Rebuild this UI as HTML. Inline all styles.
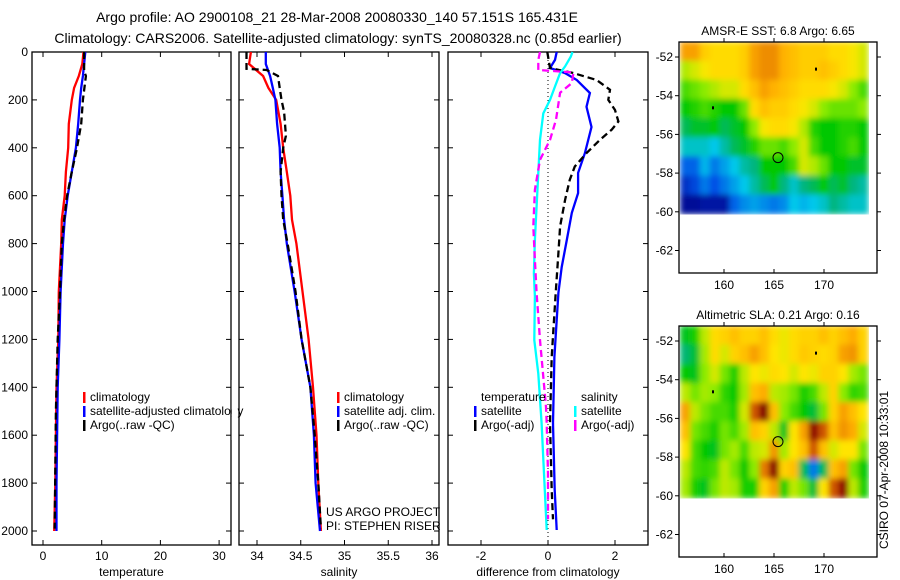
<!DOCTYPE html>
<html><head><meta charset="utf-8">
<style>
html,body{margin:0;padding:0;background:#fff;}
svg{display:block;font-family:"Liberation Sans",Arial,sans-serif;}
</style></head>
<body>
<svg id="fig" width="900" height="580" viewBox="0 0 900 580">
<defs>
<filter id="smooth" x="0" y="0" width="1" height="1" filterUnits="objectBoundingBox">
<feGaussianBlur stdDeviation="3" edgeMode="duplicate"/>
</filter>
</defs>
<text x="337" y="22" font-size="14" text-anchor="middle">Argo profile: AO 2900108_21 28-Mar-2008 20080330_140 57.151S 165.431E</text>
<text x="338" y="43" font-size="14" text-anchor="middle">Climatology: CARS2006. Satellite-adjusted climatology: synTS_20080328.nc (0.85d earlier)</text>
<text transform="translate(888,470) rotate(-90)" font-size="12" text-anchor="middle">CSIRO 07-Apr-2008 10:33:01</text>
<g id="layer"></g>
</svg>
<script>
// ---------- data ----------
const depthTicks = [0,200,400,600,800,1000,1200,1400,1600,1800,2000];
const tempTicks = [0,10,20,30];
const salTicks = [34,34.5,35,35.5,36];
const salTickLabels = ["34","34.5","35","35.5","36"];
const diffTicks = [-2,0,2];

const climTempDepth = [0,50,100,150,200,300,400,500,600,700,800,1000,1200,1400,1600,1800,2000];
const climTemp      = [6.9,6.7,6.1,5.3,4.9,4.4,4.3,3.9,3.7,3.2,3.1,2.7,2.6,2.3,2.2,2.1,1.9];
const satTemp       = [7.2,7.0,6.8,6.5,6.3,6.0,5.6,4.9,4.2,3.7,3.4,3.0,2.8,2.5,2.4,2.3,2.3];
const argoTempDepth = [0,50,80,100,200,300,400,500,600,700,800,1000,1200,1500,1990];
const argoTemp      = [7.0,7.0,7.0,7.3,6.8,6.5,5.8,4.9,4.1,3.6,3.2,2.9,2.5,2.2,2.0];

const climSal  = [33.93,33.91,34.07,34.13,34.22,34.27,34.30,34.34,34.38,34.40,34.45,34.52,34.59,34.64,34.68,34.70,34.73];
const satSal   = [34.10,34.10,34.15,34.18,34.21,34.23,34.26,34.27,34.29,34.31,34.34,34.43,34.51,34.61,34.65,34.67,34.72];
const argoSalDepth = [0,70,75,100,150,200,250,300,350,400,500,600,700,800,1000,1200,1400,1600,1800,1990];
const argoSal      = [33.88,33.88,34.11,34.24,34.26,34.28,34.31,34.32,34.33,34.30,34.27,34.28,34.30,34.35,34.44,34.51,34.61,34.66,34.70,34.73];

const dTempSatDepth = [0,33,67,88,117,171,229,313,422,505,589,672,785,898,1006,1273,1550,1829,1996];
const dTempSat      = [0.26,0.21,0.06,0.51,0.86,1.25,1.15,1.3,1.1,0.9,0.9,0.71,0.56,0.41,0.31,0.19,0.15,0.2,0.26];
const dTempArgoDepth = [0,67,88,117,158,200,242,290,325,367,422,478,533,617,728,840,1006,1273,1550,1829,1951];
const dTempArgo      = [-0.02,0.06,0.76,1.45,1.85,1.8,2.0,2.1,1.9,1.55,1.15,0.8,0.65,0.51,0.36,0.31,0.23,0.11,0.06,0.11,0.15];
const dSalSatDepth = [0,19,60,88,144,200,256,367,505,645,784,923,1020,1203,1343,1550,1760,1996];
const dSalSat      = [0.73,0.68,0.51,0.36,0.21,0.06,-0.14,-0.24,-0.29,-0.34,-0.39,-0.42,-0.39,-0.41,-0.29,-0.19,-0.12,-0.04];
const dSalArgoDepth = [0,33,75,85,130,170,283,367,450,575,728,868,1006,1203,1482,1550,1760,1951];
const dSalArgo      = [-0.24,-0.29,-0.29,0.76,0.71,0.36,0.24,0.06,-0.24,-0.39,-0.44,-0.39,-0.34,-0.24,-0.06,-0.04,0,0];

const mapLonTicks = [160,165,170];
const mapLatTicks = [-52,-54,-56,-58,-60,-62];
const sstField = [
[8.4,8.4,7.8,7.6,7.6,7.6,7.8,8.4,8.6,8.6,8.2,8,7.8,7.8,7.8,7.6,7.6,7.4,7.2],
[7,7.2,7.4,7.6,7.6,7.6,7.8,8.4,8.6,8.6,8.2,8,7.8,7.8,8,7.8,7.6,7.4,7.2],
[6.4,6.6,6.8,7,7.2,7.2,7.6,8,8.4,8.2,8,7.8,7.6,7.6,7.6,7.4,7.2,6.8,6.4],
[6,6.2,6.4,6.2,6,6,6.6,7.6,8,7.8,7.8,7.6,7.4,7.2,6.8,6.6,6.6,6.6,6.8],
[5.6,5.8,5.8,6,5.6,5.8,6,6.8,7.4,7.6,7.6,7.4,7,6.2,6,6,6.2,6.2,6],
[5,5,5,4.8,5.2,5.6,5.8,6.2,6.6,6.6,6.4,6.8,7.2,6.4,6,6,6.2,6.4,6],
[3.8,3.8,4.6,4,4.4,4.8,5.2,5.4,6,6,6,6.4,7.2,7,6.6,6,6,5.8,5.8],
[3,3.4,4,3.6,4,4.4,4.8,5.2,5.6,6,5.4,5,5.4,5.6,6,5.6,5.8,5.4,5.2],
[2.2,2.2,2.4,2.4,2.4,3.8,4.2,4.4,4.2,4,4.2,4.8,4.6,4.8,5,5.4,5.2,5,5]];
const slaField = [
[-0.04,-0.02,0.05,0.09,0.1,0.12,0.1,0.1,0.12,0.09,0.07,0.09,0.1,0.1,0.12,0.1,0.12,0.14,0.1],
[-0.07,-0.05,0.04,0.09,0.06,0.1,0.12,0.15,0.12,0.08,0.07,0.09,0.11,0.1,0.09,0.1,0.15,0.16,0.1],
[-0.03,-0.04,0.03,0.06,0.02,-0.02,0.05,0.08,0.07,0.09,0.08,0.06,0.08,0.07,0.1,0.1,0.08,0.04,0.02],
[0.05,0.02,0.04,0.03,-0.01,-0.03,0.04,0.12,0.14,0.05,0.04,0.02,-0.02,0,0.05,0.1,0.03,-0.01,0],
[0.15,0.05,0.02,0,0,-0.02,0.06,0.2,0.27,0.12,0.03,0,-0.03,-0.05,0.02,0.1,0.15,0.12,0.08],
[0.12,0.02,0,-0.02,0.02,0,0.04,0.12,0.1,0.05,-0.04,0.08,0.15,0.25,0.2,0.12,0.16,0.14,0.06],
[0.08,0,-0.03,-0.04,0.02,0.04,0,0.05,0.06,0.16,0.04,0.08,0.12,0.2,0.12,0.06,0.08,0.08,0.02],
[0.05,0,-0.01,0,0.05,0.02,-0.03,0.03,0.18,0.26,0.1,0.12,-0.06,-0.18,-0.06,0.12,0.15,0.02,-0.03],
[0.04,-0.02,-0.04,0.02,0.05,0.04,-0.02,-0.02,0.1,0.15,-0.02,0.05,0.02,-0.05,0.08,0.2,0.25,0.05,-0.02]];
const argoPos = [165.4,-57.2];

// ---------- helpers ----------
const NS="http://www.w3.org/2000/svg";
const layer=document.getElementById('layer');
function mk(tag,attrs,parent){const e=document.createElementNS(NS,tag);for(const k in attrs)e.setAttribute(k,attrs[k]);(parent||layer).appendChild(e);return e;}
const yDepth=d=>52+d*0.2395;
const xTemp=t=>43+t*5.87;
const xSal=s=>257+(s-34)*87.5;
const xDiff=v=>548+v*33.5;
const TOP=52,BOT=545;

function panel(name,x0,x1,xf,ticks,labels,ylabels,xtitle){
  const g=mk('g',{});
  
  
  const r=mk('rect',{x:x0,y:TOP,width:x1-x0,height:BOT-TOP,fill:'none',stroke:'#000','stroke-width':1.3},g);
  
  
  ticks.forEach((t,i)=>{const x=xf(t);
    mk('line',{x1:x,x2:x,y1:BOT,y2:BOT-5,stroke:'#000'},g);
    mk('line',{x1:x,x2:x,y1:TOP,y2:TOP+5,stroke:'#000'},g);
    const tx=mk('text',{x:x,y:BOT+15,'font-size':12,'text-anchor':'middle'},g);tx.textContent=labels[i];
    
    
  });
  depthTicks.forEach(d=>{const y=yDepth(d);
    mk('line',{x1:x0,x2:x0+5,y1:y,y2:y,stroke:'#000'},g);
    mk('line',{x1:x1,x2:x1-5,y1:y,y2:y,stroke:'#000'},g);
    if(ylabels){const tx=mk('text',{x:x0-4,y:y+4,'font-size':12,'text-anchor':'end'},g);tx.textContent=d;
      
      }
  });
  const t=mk('text',{x:(x0+x1)/2,y:576,'font-size':12,'text-anchor':'middle'},g);t.textContent=xtitle;
  
  
  return g;
}
function line(name,xs,ds,xf,color,dash){
  const pts=xs.map((v,i)=>xf(v).toFixed(1)+','+yDepth(ds[i]).toFixed(1)).join(' ');
  const p=mk('polyline',{points:pts,fill:'none',stroke:color,'stroke-width':2.3,'stroke-dasharray':dash?'7,4':'none'});
  
  
}
function legend(x,y,items){
  items.forEach((it,i)=>{const yy=y+i*14;
    if(it[1]){const b=mk('rect',{x:x,y:yy-9,width:2.5,height:11,fill:it[1]});
      
      }
    const t=mk('text',{x:x+7,y:yy,'font-size':12});t.textContent=it[0];
    
    
  });
}

// temperature panel
panel('temperature-panel',32,231,xTemp,tempTicks,tempTicks.map(String),true,'temperature');
line('climatology-temp-line',climTemp,climTempDepth,xTemp,'#f00',false);
line('satellite-temp-line',satTemp,climTempDepth,xTemp,'#00f',false);
line('argo-temp-line',argoTemp,argoTempDepth,xTemp,'#000',true);
legend(83,401,[['climatology','#f00'],['satellite-adjusted climatology','#00f'],['Argo(..raw -QC)','#000']]);
mk('rect',{x:231.7,y:380,width:6,height:60,fill:'#fff'});

// salinity panel
panel('salinity-panel',239,439,xSal,salTicks,salTickLabels,false,'salinity');
line('climatology-sal-line',climSal,climTempDepth,xSal,'#f00',false);
line('satellite-sal-line',satSal,climTempDepth,xSal,'#00f',false);
line('argo-sal-line',argoSal,argoSalDepth,xSal,'#000',true);
legend(337,401,[['climatology','#f00'],['satellite adj. clim.','#00f'],['Argo(..raw -QC)','#000']]);
{const t=mk('text',{x:326,y:516,'font-size':12});t.textContent='US ARGO PROJECT';


const t2=mk('text',{x:326,y:530,'font-size':12});t2.textContent='PI: STEPHEN RISER';

}

// difference panel
panel('difference-panel',448,648,xDiff,diffTicks,diffTicks.map(String),false,'difference from climatology');
{const z=mk('line',{x1:xDiff(0),x2:xDiff(0),y1:TOP,y2:BOT,stroke:'#000','stroke-dasharray':'1,3'});

}
line('diff-temp-satellite',dTempSat,dTempSatDepth,xDiff,'#00f',false);
line('diff-temp-argo',dTempArgo,dTempArgoDepth,xDiff,'#000',true);
line('diff-sal-satellite',dSalSat,dSalSatDepth,xDiff,'#0ff',false);
line('diff-sal-argo',dSalArgo,dSalArgoDepth,xDiff,'#f0f',true);
legend(474,401,[['temperature',null],['satellite','#00f'],['Argo(-adj)','#000']]);
legend(574,401,[['salinity',null],['satellite','#0ff'],['Argo(-adj)','#f0f']]);

// maps
const cmapStops=[[0,0,0,140],[0.2,0,80,230],[0.35,0,200,235],[0.43,0,180,120],[0.5,0,200,0],[0.6,140,235,0],[0.68,255,230,0],[0.78,255,175,0],[0.86,225,115,0],[0.95,150,0,0],[1,130,0,0]];
function cmap(f){f=Math.max(0,Math.min(1,f));
  for(let i=1;i<cmapStops.length;i++){const a=cmapStops[i-1],b=cmapStops[i];
    if(f<=b[0]){const t=(f-a[0])/(b[0]-a[0]);
      return 'rgb('+[1,2,3].map(k=>Math.round(a[k]+(b[k]-a[k])*t)).join(',')+')';}}
  return 'rgb(130,0,0)';}
function map(name,top,bot,yAt52,title,field,norm){
  const L=679,R=877;
  const xl=lon=>724+(lon-160)*10;
  const yl=lat=>yAt52+(-52-lat)*19.35;
  const g=mk('g',{});
  
  
  const tt=mk('text',{x:(L+R)/2,y:top-7,'font-size':12,'text-anchor':'middle'},g);tt.textContent=title;
  
  
  const hg=mk('g',{filter:'url(#smooth)'},g);
  
  
  const lon0=155.6,lon1=174.4,lat0=-51.2,lat1=-60.1;
  const nr=field.length,nc=field[0].length;
  const cw=(lon1-lon0)/nc,ch=(lat0-lat1)/nr;
  field.forEach((row,i)=>row.forEach((v,j)=>{
    const x=xl(lon0+j*cw),y=yl(lat0-i*ch);
    const c=mk('rect',{x:x.toFixed(2),y:y.toFixed(2),width:(cw*10+0.6).toFixed(2),height:(ch*19.35+0.6).toFixed(2),fill:cmap(norm(v))},hg);
    
    
  }));
  const fr=mk('rect',{x:L,y:top,width:R-L,height:bot-top,fill:'none',stroke:'#000','stroke-width':1.3},g);
  
  
  mapLonTicks.forEach(lo=>{const x=xl(lo);
    mk('line',{x1:x,x2:x,y1:top,y2:top-4,stroke:'#000'},g);
    mk('line',{x1:x,x2:x,y1:bot,y2:bot-4,stroke:'#000'},g);
    const t=mk('text',{x:x,y:bot+16,'font-size':12,'text-anchor':'middle'},g);t.textContent=lo;
    
    });
  mapLatTicks.forEach(la=>{const y=yl(la);
    mk('line',{x1:L,x2:L-4,y1:y,y2:y,stroke:'#000'},g);
    mk('line',{x1:R,x2:R+4,y1:y,y2:y,stroke:'#000'},g);
    const t=mk('text',{x:L-6,y:y+4,'font-size':12,'text-anchor':'end'},g);t.textContent=la;
    
    });
  const ci=mk('circle',{cx:xl(argoPos[0]),cy:yl(argoPos[1]),r:5,fill:'none',stroke:'#000','stroke-width':1},g);
  
  
  mk('rect',{x:xl(169.2)-1,y:yl(-52.6)-1,width:2,height:3,fill:'#000'},g);
  mk('rect',{x:xl(158.9)-1,y:yl(-54.6)-1,width:2,height:3,fill:'#000'},g);
}
map('sst-map',42,273,57,'AMSR-E SST: 6.8 Argo: 6.65',sstField,v=>(v-2)/8);
map('sla-map',326,557,341,'Altimetric SLA: 0.21 Argo: 0.16',slaField,v=>v/0.6+0.55);
</script>
</body></html>
